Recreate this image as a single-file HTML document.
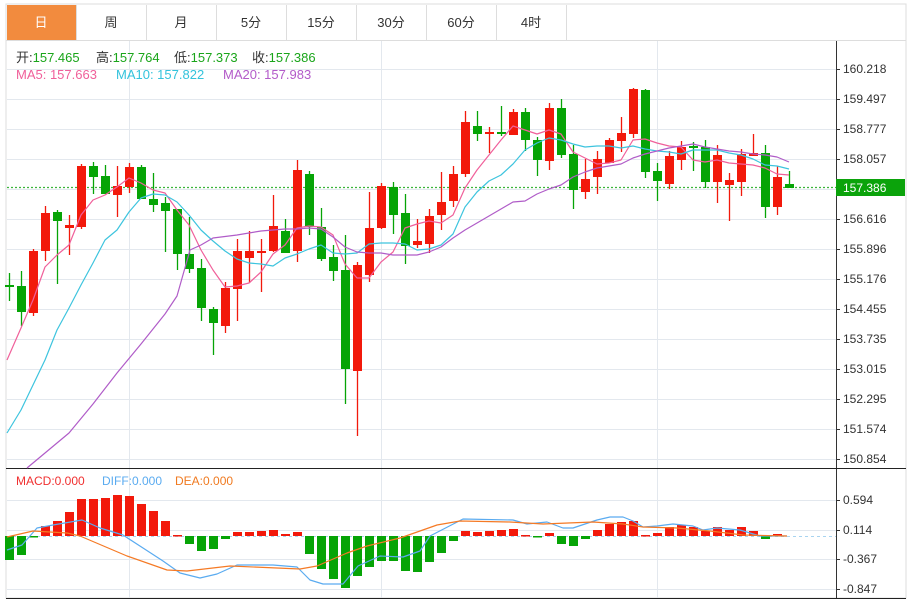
<!DOCTYPE html>
<html><head><meta charset="utf-8"><style>
html,body{margin:0;padding:0;background:#fff;width:913px;height:603px;overflow:hidden;font-family:"Liberation Sans","Noto Sans CJK SC",sans-serif}
svg{position:absolute;left:0;top:0}
</style></head><body>
<svg id="s" width="913" height="603" xmlns="http://www.w3.org/2000/svg" font-family="Liberation Sans, Noto Sans CJK SC, sans-serif">
<rect x="6" y="4" width="900" height="594" fill="#fff" stroke="#ddd"/>
<line x1="6" y1="40.5" x2="906" y2="40.5" stroke="#ddd"/>
<rect x="7" y="5" width="69" height="35" fill="#f28b3e"/>
<g stroke="#ddd"><line x1="76.5" y1="5" x2="76.5" y2="40"/><line x1="146.5" y1="5" x2="146.5" y2="40"/><line x1="216.5" y1="5" x2="216.5" y2="40"/><line x1="286.5" y1="5" x2="286.5" y2="40"/><line x1="356.5" y1="5" x2="356.5" y2="40"/><line x1="426.5" y1="5" x2="426.5" y2="40"/><line x1="496.5" y1="5" x2="496.5" y2="40"/><line x1="566.5" y1="5" x2="566.5" y2="40"/></g>
<g font-size="13" text-anchor="middle" fill="#333"><text x="41" y="27" fill="#fff">日</text><text x="111" y="27">周</text><text x="181" y="27">月</text><text x="251" y="27">5分</text><text x="321" y="27">15分</text><text x="391" y="27">30分</text><text x="461" y="27">60分</text><text x="531" y="27">4时</text></g>
<g id="grid" stroke="#e3e8ee" stroke-width="1"></g>
<line x1="836.5" y1="41" x2="836.5" y2="598" stroke="#333"/>
<line x1="6" y1="468.5" x2="906" y2="468.5" stroke="#222"/>
<line x1="6" y1="598.5" x2="906" y2="598.5" stroke="#222"/>
<g font-size="13" fill="#333">
<text x="16" y="62">开:<tspan fill="#1aa51a">157.465</tspan></text>
<text x="96" y="62">高:<tspan fill="#1aa51a">157.764</tspan></text>
<text x="174" y="62">低:<tspan fill="#1aa51a">157.373</tspan></text>
<text x="252" y="62">收:<tspan fill="#1aa51a">157.386</tspan></text>
<text x="16" y="79" fill="#f0609a">MA5: 157.663</text>
<text x="116" y="79" fill="#33c3dc">MA10: 157.822</text>
<text x="223" y="79" fill="#b35bc9">MA20: 157.983</text></g>
<g font-size="12"><text x="16" y="485" fill="#f03030">MACD:0.000</text><text x="102" y="485" fill="#5aabf0">DIFF:0.000</text><text x="175" y="485" fill="#f07a20">DEA:0.000</text></g>
<g id="c"></g>
<g id="ax" font-size="12" fill="#333"></g>
</svg>
<script>
var NS="http://www.w3.org/2000/svg",s=document.getElementById('s');
function el(p,t,a,txt){var e=document.createElementNS(NS,t);for(var k in a)e.setAttribute(k,a[k]);if(txt)e.textContent=txt;p.appendChild(e);return e;}
var g=document.getElementById('grid'),c=document.getElementById('c'),ax=document.getElementById('ax');
var labs=["160.218","159.497","158.777","158.057","","156.616","155.896","155.176","154.455","153.735","153.015","152.295","151.574","150.854"];
for(var i=0;i<14;i++){var y=69+30*i;el(g,'line',{x1:7,x2:836,y1:y+.5,y2:y+.5});if(labs[i]){el(ax,'text',{x:843,y:y+4},labs[i]);el(ax,'line',{x1:836,x2:840,y1:y+.5,y2:y+.5,stroke:'#333'});}}
var ml=[[500,"0.594"],[530,"0.114"],[559,"-0.367"],[589,"-0.847"]];
ml.forEach(function(m){el(g,'line',{x1:7,x2:836,y1:m[0]+.5,y2:m[0]+.5});el(ax,'text',{x:843,y:m[0]+4},m[1]);el(ax,'line',{x1:836,x2:840,y1:m[0]+.5,y2:m[0]+.5,stroke:'#333'});});
[129,381,657].forEach(function(x){el(g,'line',{x1:x+.5,x2:x+.5,y1:41,y2:598});});
var R="#f2190b",G="#06a406";
var K=[[285,287,273,301,0],[286,312,271,326,0],[251,313,249,316,1],[213,251,206,261,1],[212,221,210,284,0],[225,228,215,255,1],[166,227,164,229,1],[166,177,162,194,0],[176,194,165,194,0],[186,195,166,217,1],[167,187,163,193,1],[167,199,165,199,0],[199,205,173,212,0],[203,211,197,252,0],[209,254,209,270,0],[254,269,217,273,0],[268,308,259,321,0],[309,323,307,355,0],[288,326,282,333,1],[251,289,239,321,1],[251,258,231,283,1],[251,253,239,292,1],[226,251,195,252,1],[231,253,219,253,0],[170,251,160,262,1],[174,227,171,235,0],[227,259,208,261,0],[257,271,245,281,0],[270,369,235,404,0],[265,371,262,436,1],[228,275,192,282,1],[186,228,183,229,1],[187,215,182,234,0],[213,246,194,264,0],[241,245,219,248,1],[216,244,209,253,1],[202,215,172,230,1],[174,201,166,207,1],[122,174,111,177,1],[126,134,111,141,0],[132,134,127,153,1],[132,133,106,136,0],[112,135,109,135,1],[112,140,108,151,0],[140,160,137,176,0],[108,161,103,170,1],[108,155,99,158,0],[154,190,145,209,0],[179,192,159,199,1],[159,177,151,194,1],[140,163,138,163,1],[133,141,117,152,1],[89,134,88,138,1],[90,172,89,178,0],[171,181,163,201,0],[156,184,151,189,1],[147,160,141,170,1],[146,148,142,171,0],[147,182,140,188,0],[155,182,145,203,1],[180,185,173,221,1],[154,182,149,196,1],[153,156,134,156,1],[153,207,145,218,0],[177,207,166,215,1],[184,188,171,188,0]];
function pl(pts,col,w){el(c,'polyline',{points:pts,fill:'none',stroke:col,'stroke-width':w||1.2,'stroke-linejoin':'round'});}
el(c,'line',{x1:7,x2:836,y1:187.5,y2:187.5,stroke:'#3cb43c','stroke-dasharray':'2,2','stroke-width':1.2});
K.forEach(function(k,i){var x=9.5+12*i,col=k[4]?R:G;el(c,'line',{x1:x,x2:x,y1:k[2],y2:k[3],stroke:col,'stroke-width':1.3});el(c,'rect',{x:x-4.5,y:k[0],width:9,height:Math.max(2,k[1]-k[0]),fill:col});});
pl("7,360 21,328 33,300 45,267 57,255 69,245 81,215 93,200 105,195 117,187 129,178 141,183 153,190 165,193 177,210 189,225 201,250 213,270 225,287 237,286 249,283 261,272 273,254 285,245 297,228 309,226 321,227 333,235 345,264 357,278 369,278 381,262 393,252 405,228 417,224 429,221 441,223 453,215 465,188 477,170 489,155 501,140 513,126 525,130 537,134 549,130 561,134 573,152 585,158 597,164 609,163 621,160 633,140 645,139 657,143 669,146 681,147 693,160 705,162 717,160 729,163 741,164 753,165 765,168 777,174 789,175","#f0609a");
pl("7,433 21,410 33,385 45,360 57,330 69,308 81,285 93,263 105,240 117,230 129,212 141,198 153,194 165,195 177,202 189,215 201,230 213,241 225,251 237,259 249,263 261,264 273,266 285,258 297,254 309,249 321,245 333,253 345,254 357,253 369,244 381,243 393,243 405,244 417,250 429,249 441,245 453,234 465,207 477,192 489,181 501,175 513,164 525,150 537,143 549,138 561,140 573,144 585,147 597,146 609,146 621,148 633,146 645,149 657,151 669,152 681,154 693,150 705,150 717,150 729,153 741,155 753,159 765,165 777,166 789,169","#3dc4de");
pl("27,468 45,453 69,433 93,404 117,373 141,344 165,314 177,296 190,250 201,245 213,238 237,235 261,231 285,229 297,229 309,228 321,229 333,237 345,247 357,252 369,253 381,253 393,255 405,255 417,255 429,252 441,247 453,238 465,230 477,223 489,216 501,209 513,202 525,201 537,194 549,189 561,185 573,177 585,172 597,168 609,166 621,164 633,158 645,154 657,151 669,148 681,146 693,144 705,147 717,149 729,151 741,152 753,154 765,155 777,157 789,162","#b05cc8");
el(c,'line',{x1:7,x2:836,y1:536.5,y2:536.5,stroke:'#a8d4f0','stroke-dasharray':'3,3'});
var M=[560,555,537,526,521,512,499,499,498,495,496,504,511,521,535,544,551,549,539,532,532,531,530,534,532,554,569,579,588,576,567,561,561,571,572,562,553,541,531,532,531,530,529,535,537,533,544,546,539,530,524,522,521,535,533,527,525,527,531,527,530,527,531,539,534];
M.forEach(function(v,i){var x=9.5+12*i;var up=v<536;var y0=up?v:536,h=Math.max(1.5,Math.abs(v-536));el(c,'rect',{x:x-4.5,y:y0,width:9,height:h,fill:up?R:G});});
pl("7,550 22,545 37,528 53,525 82,520 100,528 123,535 143,548 163,561 180,573 200,578 217,574 237,565 273,565 297,567 310,580 323,584 343,584 358,566 380,556 403,557 420,551 430,536 463,519 513,520 527,524 547,522 563,528 573,528 597,520 610,517 623,517 633,521 643,527 657,526 673,524 693,526 703,530 717,528 740,530 760,536 787,536","#5aabf0");
pl("7,537 33,531 67,533 80,536 127,556 167,570 187,571 230,566 300,569 317,566 347,553 367,546 400,538 420,531 437,525 460,521 510,522 543,524 593,522 623,524 643,527 677,528 710,531 743,535 787,536","#f57a25");
el(ax,'rect',{x:836,y:179,width:69,height:17,fill:'#0ba30b'});
el(ax,'text',{x:843,y:192,fill:'#fff'},"157.386");
</script>
</body></html>
